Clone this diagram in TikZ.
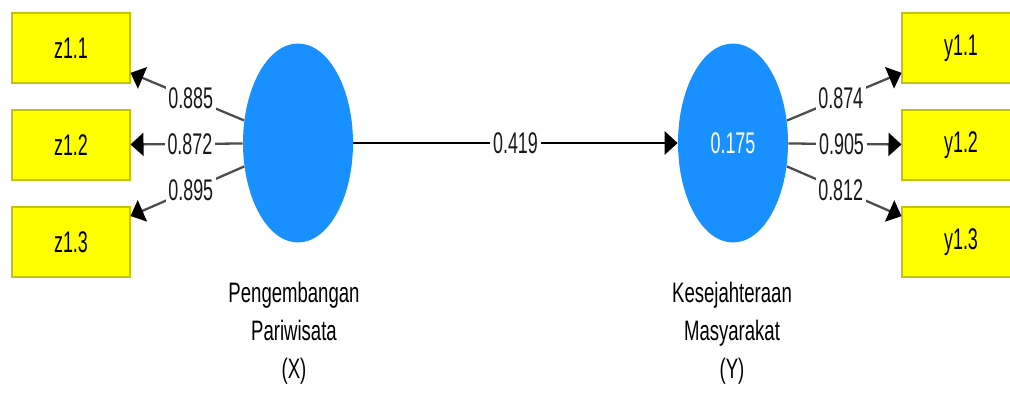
\documentclass[tikz,border=0pt]{standalone}
\usepackage{fontspec}
\setmainfont{Liberation Sans}
\newfontfamily\narrowfont[FakeStretch=0.6]{Liberation Sans}
\newfontfamily\namefont[FakeStretch=0.66]{Liberation Sans}
\usetikzlibrary{arrows.meta,shapes.geometric}
\definecolor{latentblue}{RGB}{25,144,255}
\definecolor{indyellow}{RGB}{255,255,0}
\definecolor{indborder}{RGB}{195,195,0}
\begin{document}
\begin{tikzpicture}[x=0.02cm, y=-0.02cm,
	indicator/.style={draw=indborder, fill=indyellow, line width=0.6pt, minimum width=2.36cm, minimum height=1.4cm, inner sep=0pt, font=\narrowfont\fontsize{17}{20}\selectfont},
	latent/.style={ellipse, fill=latentblue, minimum width=2.2cm, minimum height=3.98cm, inner sep=0pt, text=white, font=\narrowfont\fontsize{17}{20}\selectfont},
	loading/.style={draw=black!70, line width=1.3pt, -{Triangle[length=0.26cm, width=0.46cm, color=black]}},
	coef/.style={fill=white, inner sep=1.5pt, text=black!90, font=\narrowfont\fontsize{17}{20}\selectfont},
	varname/.style={align=center, font=\namefont\fontsize{16}{21.6}\selectfont}]
\useasboundingbox (0,0) rectangle (1010,396);
\clip (0,0) rectangle (1010,396);
% indicators
\foreach \i/\yy in {1/48,2/145,3/242}
	{\node[indicator] (z\i) at (71,\yy) {z1.\i};
	 \node[indicator] (y\i) at (961,\yy) {y1.\i};}
% latent variables
\node[latent] (X) at (298,143) {};
\node[latent] (Y) at (733,143) {0.175};
\node[varname] at (294,333) {Pengembangan\\Pariwisata\\(X)};
\node[varname] at (732,333) {Kesejahteraan\\Masyarakat\\(Y)};
% loadings
\foreach \i/\v in {1/0.885,2/0.872,3/0.895}
	\draw[loading] (X) -- node[coef, pos=0.47]{\v} (z\i);
\foreach \i/\v in {1/0.874,2/0.905,3/0.812}
	\draw[loading] (Y) -- node[coef, pos=0.47]{\v} (y\i);
% path coefficient
\draw[loading, draw=black, line width=1.6pt] (X) -- node[coef]{0.419} (Y);
\end{tikzpicture}
\end{document}
